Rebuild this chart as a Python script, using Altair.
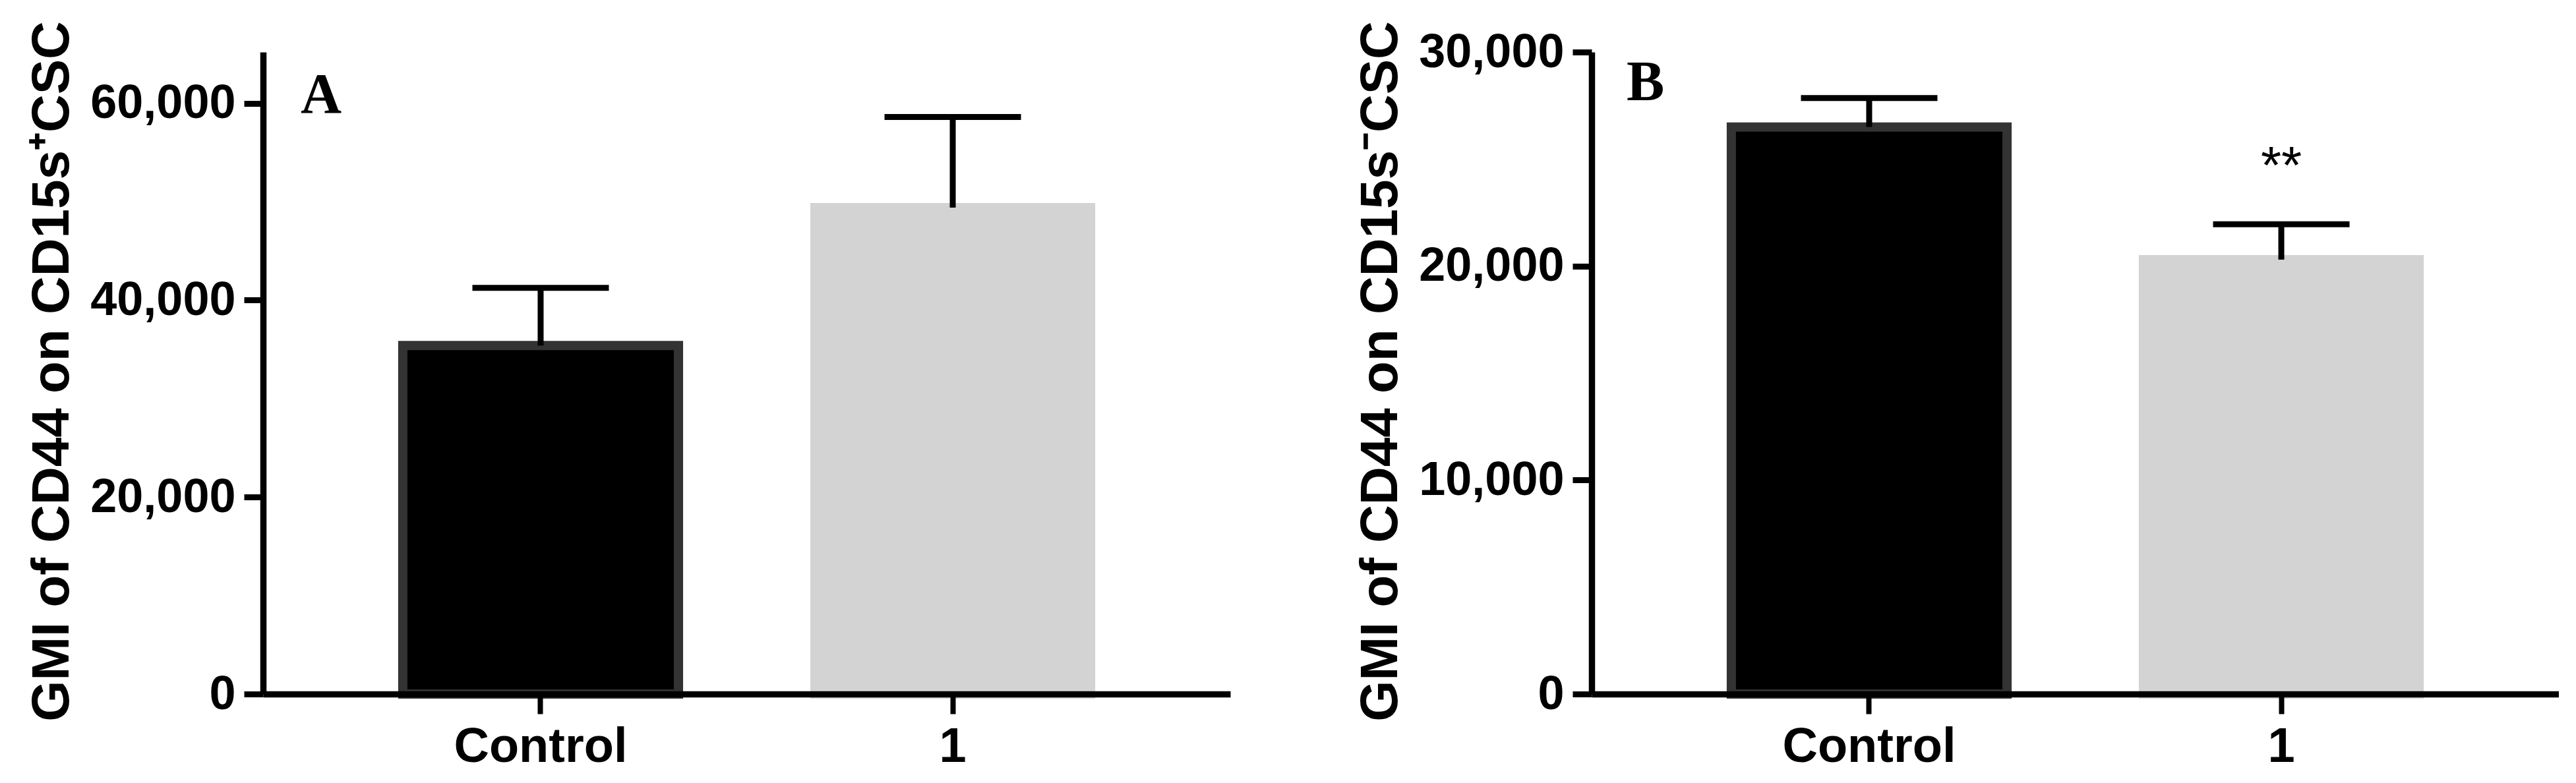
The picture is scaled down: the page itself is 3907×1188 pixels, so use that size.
import altair as alt
import pandas as pd

groups = ["Control", "1"]
fills = ["#000000", "#d3d3d3"]
strokes = ["#333333", "#d3d3d3"]

# Panel A: CD15s+ CSC
mean_a = [35400, 49400]
upper_a = [41250, 58600]
ticks_a = [0, 20000, 40000, 60000]
ymax_a = 65200
sig_a = ["", ""]
title_a = "GMI of CD44 on CD15s\u207aCSC"

# Panel B: CD15s- CSC
mean_b = [26500, 20300]
upper_b = [27850, 21950]
ticks_b = [0, 10000, 20000, 30000]
ymax_b = 30000
sig_b = ["", "**"]
title_b = "GMI of CD44 on CD15s\u207bCSC"

W, H = 1467, 974
SANS = "Liberation Sans"


def panel(means, uppers, ymax, yticks, title, letter, sig, lx, ly):
    df = pd.DataFrame({
        "group": groups, "mean": means, "upper": uppers,
        "fill": fills, "stroke": strokes, "sig": sig,
    })
    xenc = alt.X(
        "group:N", sort=groups, title=None,
        scale=alt.Scale(paddingInner=0.331, paddingOuter=0.339),
        axis=alt.Axis(
            labelAngle=0, labelFont=SANS, labelFontWeight="bold", labelFontSize=74,
            labelColor="black", tickSize=30, tickWidth=8, tickColor="black",
            domainWidth=9.5, domainColor="black", labelPadding=14, labelLimit=0,
            zindex=1,
        ),
    )
    yscale = alt.Scale(domain=[0, ymax], nice=False, zero=True)
    yaxis = alt.Axis(
        values=yticks, format=",d", labelFont=SANS, labelFontWeight="bold",
        labelFontSize=72, labelColor="black", tickSize=29, tickWidth=9,
        tickColor="black", domainWidth=9.5, domainColor="black", labelPadding=13,
        labelLimit=0,
        titleFont=SANS, titleFontWeight="bold", titleFontSize=80, titleColor="black",
        titleLimit=0, titleX=-296, titleY=H / 2 - 3, titleBaseline="alphabetic",
        titleAngle=270, titleAlign="center", zindex=1,
    )
    base = alt.Chart(df)
    bars = base.mark_bar(strokeWidth=14).encode(
        x=xenc,
        y=alt.Y("mean:Q", scale=yscale, axis=yaxis, title=title),
        fill=alt.Fill("fill:N", scale=None),
        stroke=alt.Stroke("stroke:N", scale=None),
    )
    whisk = base.mark_rule(strokeWidth=9, color="black").encode(
        x=alt.X("group:N", sort=groups),
        y=alt.Y("mean:Q", title=title),
        y2="upper:Q",
    )
    caps = base.mark_tick(size=207, thickness=9, color="black", opacity=1).encode(
        x=alt.X("group:N", sort=groups),
        y=alt.Y("upper:Q", title=title),
    )
    stars = base.mark_text(
        font=SANS, fontSize=80, dy=-62, baseline="alphabetic", align="center", color="black"
    ).encode(
        x=alt.X("group:N", sort=groups),
        y=alt.Y("upper:Q", title=title),
        text="sig:N",
    )
    lab = alt.Chart(pd.DataFrame({"t": [letter]})).mark_text(
        font="Liberation Serif", fontWeight="bold", fontSize=86,
        align="left", baseline="alphabetic", color="black",
    ).encode(text="t:N", x=alt.value(lx), y=alt.value(ly))
    return alt.layer(bars, whisk, caps, stars, lab).properties(width=W, height=H)


pa = panel(mean_a, upper_a, ymax_a, ticks_a, title_a, "A", sig_a, 57, 92)
pb = panel(mean_b, upper_b, ymax_b, ticks_b, title_b, "B", sig_b, 53, 73)

chart = alt.hconcat(pa, pb, spacing=548, bounds="flush").properties(
    padding={"left": 30, "top": 14, "right": 0, "bottom": 0},
    background="white",
).configure_view(stroke=None).configure_axis(grid=False)

chart.save("out.html", embed_options={"renderer": "svg", "actions": False})
